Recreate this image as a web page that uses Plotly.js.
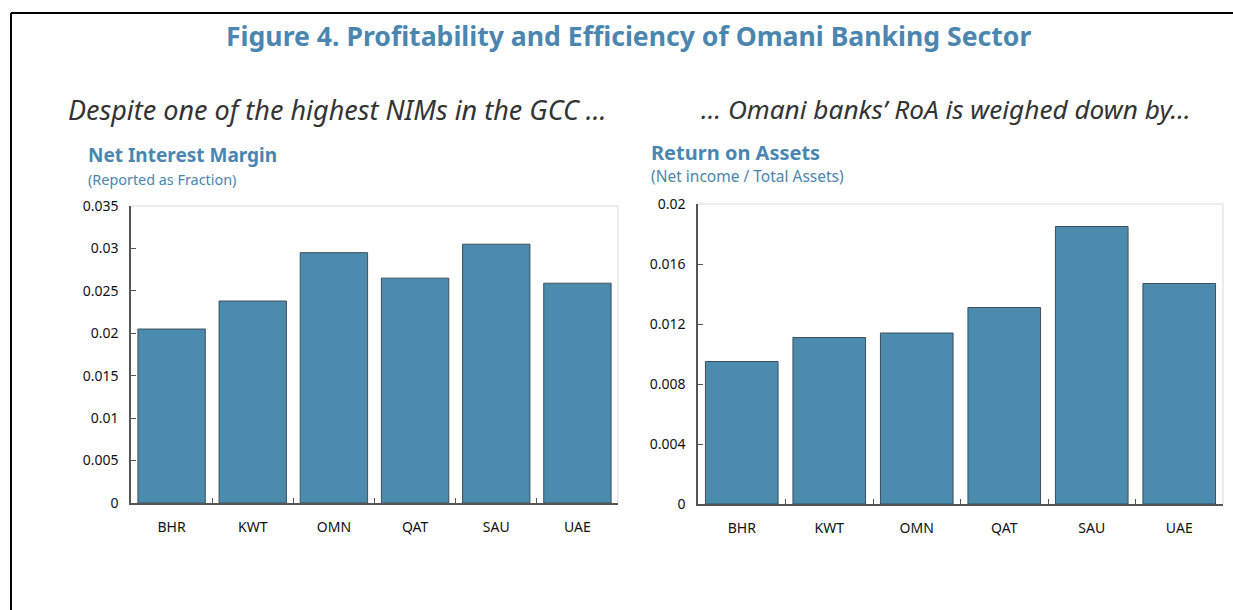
<!DOCTYPE html>
<html>
<head>
<meta charset="utf-8">
<script src="https://cdn.plot.ly/plotly-3.0.1.min.js"></script>
<style>html,body{margin:0;padding:0;background:#fff;}#chart{width:1233px;height:610px;}</style>
</head>
<body>
<div id="chart"></div>
<script>
// Data
const categories = ["BHR", "KWT", "OMN", "QAT", "SAU", "UAE"];
const nimValues = [0.0205, 0.0238, 0.0295, 0.0265, 0.0305, 0.0259];
const roaValues = [0.0095, 0.0111, 0.0114, 0.0131, 0.0185, 0.0147];
const nimTicks = [0, 0.005, 0.01, 0.015, 0.02, 0.025, 0.03, 0.035];
const nimTickText = ["0", "0.005", "0.01", "0.015", "0.02", "0.025", "0.03", "0.035"];
const roaTicks = [0, 0.004, 0.008, 0.012, 0.016, 0.02];
const roaTickText = ["0", "0.004", "0.008", "0.012", "0.016", "0.02"];

const W = 1233, H = 610;
const px = x => x / W;
const py = y => 1 - y / H;

const barColor = "rgb(74,139,174)";
const blue = "rgb(74,134,176)";
const font = "Noto Sans, Open Sans, sans-serif";

const traces = [
  {type: "bar", x: categories, y: nimValues, xaxis: "x", yaxis: "y",
   marker: {color: barColor, line: {color: "#3d4f5c", width: 1}}, hoverinfo: "x+y"},
  {type: "bar", x: categories, y: roaValues, xaxis: "x2", yaxis: "y2",
   marker: {color: barColor, line: {color: "#3d4f5c", width: 1}}, hoverinfo: "x+y"}
];

const xCommon = {
  type: "category", showgrid: false, zeroline: false,
  showline: true, linecolor: "#555", linewidth: 1.5,
  ticks: "inside", tickson: "boundaries", ticklen: 5, tickcolor: "#555",
  tickfont: {family: font, size: 14, color: "#111"}, ticklabelstandoff: 10,
  fixedrange: true
};
const yCommon = {
  showgrid: false, zeroline: false, showline: true, linecolor: "#555", linewidth: 1.5,
  ticks: "inside", ticklen: 5, tickcolor: "#555",
  tickfont: {family: font, size: 14, color: "#111"}, ticklabelstandoff: 8,
  fixedrange: true
};

const layout = {
  width: W, height: H,
  margin: {l: 0, r: 0, t: 0, b: 0},
  paper_bgcolor: "#fff", plot_bgcolor: "#fff",
  showlegend: false, bargap: 0.17,
  xaxis: Object.assign({}, xCommon, {domain: [px(131), px(618)], anchor: "y"}),
  yaxis: Object.assign({}, yCommon, {domain: [py(503), py(206)], anchor: "x",
    range: [0, 0.035], tickvals: nimTicks, ticktext: nimTickText}),
  xaxis2: Object.assign({}, xCommon, {domain: [px(698), px(1223)], anchor: "y2"}),
  yaxis2: Object.assign({}, yCommon, {domain: [py(504), py(204)], anchor: "x2",
    range: [0, 0.02], tickvals: roaTicks, ticktext: roaTickText}),
  shapes: [
    // outer frame (top and left)
    {type: "line", xref: "paper", yref: "paper", x0: px(11), x1: 1, y0: py(13), y1: py(13), line: {color: "#000", width: 2}},
    {type: "line", xref: "paper", yref: "paper", x0: px(11), x1: px(11), y0: py(13), y1: 0, line: {color: "#000", width: 2}},
    // light top/right borders of plot areas
    {type: "line", xref: "x domain", yref: "y domain", x0: 0, x1: 1, y0: 1, y1: 1, line: {color: "#d9d9d9", width: 1}},
    {type: "line", xref: "x domain", yref: "y domain", x0: 1, x1: 1, y0: 0, y1: 1, line: {color: "#d9d9d9", width: 1}},
    {type: "line", xref: "x2 domain", yref: "y2 domain", x0: 0, x1: 1, y0: 1, y1: 1, line: {color: "#d9d9d9", width: 1}},
    {type: "line", xref: "x2 domain", yref: "y2 domain", x0: 1, x1: 1, y0: 0, y1: 1, line: {color: "#d9d9d9", width: 1}}
  ],
  annotations: [
    {text: "<b>Figure 4. Profitability and Efficiency of Omani Banking Sector</b>", xref: "paper", yref: "paper",
     x: px(628), y: py(36), xanchor: "center", yanchor: "middle", showarrow: false,
     font: {family: font, size: 26.6, color: blue}},
    {text: "<i>Despite one of the highest NIMs in the GCC …</i>", xref: "paper", yref: "paper",
     x: px(66), y: py(109), xanchor: "left", yanchor: "middle", showarrow: false,
     font: {family: font, size: 27, color: "#333"}},
    {text: "<i>… Omani banks’ RoA is weighed down by…</i>", xref: "paper", yref: "paper",
     x: px(699), y: py(109), xanchor: "left", yanchor: "middle", showarrow: false,
     font: {family: font, size: 26.2, color: "#333"}},
    {text: "<b>Net Interest Margin</b>", xref: "paper", yref: "paper",
     x: px(86), y: py(155), xanchor: "left", yanchor: "middle", showarrow: false,
     font: {family: font, size: 19, color: blue}},
    {text: "(Reported as Fraction)", xref: "paper", yref: "paper",
     x: px(86), y: py(179), xanchor: "left", yanchor: "middle", showarrow: false,
     font: {family: font, size: 14.4, color: blue}},
    {text: "<b>Return on Assets</b>", xref: "paper", yref: "paper",
     x: px(649), y: py(152), xanchor: "left", yanchor: "middle", showarrow: false,
     font: {family: font, size: 20, color: blue}},
    {text: "(Net income / Total Assets)", xref: "paper", yref: "paper",
     x: px(649), y: py(176), xanchor: "left", yanchor: "middle", showarrow: false,
     font: {family: font, size: 15.5, color: blue}}
  ]
};

Plotly.newPlot("chart", traces, layout, {displayModeBar: false, staticPlot: false});
</script>
</body>
</html>
